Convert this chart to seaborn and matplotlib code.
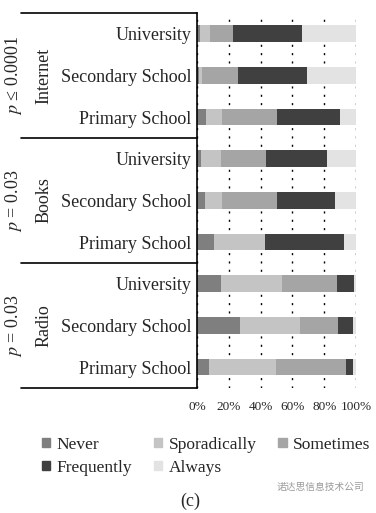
import seaborn as sns
import pandas as pd
import matplotlib.pyplot as plt
from matplotlib.patches import Patch
from matplotlib.lines import Line2D

# data (percent of respondents)
media = ['Internet', 'Books', 'Radio']
p_labels = [r'$p$ ≤ 0.0001', r'$p$ = 0.03', r'$p$ = 0.03']
levels = ['University', 'Secondary School', 'Primary School']
answers = ['Never', 'Sporadically', 'Sometimes', 'Frequently', 'Always']
colors = ['#7f7f7f', '#c4c4c4', '#a5a5a5', '#404040', '#e3e3e3']

never = [1.7, 1.0, 5.5, 2.3, 5.0, 10.5, 15.0, 27.0, 7.4]
sporadically = [6.3, 2.0, 10.0, 13.0, 10.7, 32.5, 38.6, 38.0, 42.2]
sometimes = [14.5, 23.0, 35.0, 28.0, 34.4, 0.0, 34.4, 23.4, 44.1]
frequently = [43.5, 43.0, 39.5, 38.7, 36.8, 49.6, 10.7, 9.6, 4.6]
always = [34.0, 31.0, 10.0, 18.0, 13.1, 7.4, 1.3, 2.0, 1.7]

rows = [m + '|' + l for m in media for l in levels]
df = pd.DataFrame({'row': rows, 'Never': never, 'Sporadically': sporadically,
                   'Sometimes': sometimes, 'Frequently': frequently, 'Always': always})

sns.set_style('white')
plt.rcParams['font.family'] = ['Liberation Serif', 'DejaVu Serif']
plt.rcParams['mathtext.fontset'] = 'stix'

fig = plt.figure(figsize=(3.76, 5.13), dpi=100)
ax = fig.add_axes([197 / 376, 1 - 388 / 513, 159 / 376, 375 / 513])

# stacked horizontal bars
left = pd.Series([0.0] * len(df))
for ans, col in zip(answers, colors):
    sns.barplot(x=ans, y='row', data=df, ax=ax, color=col, orient='h',
                left=left.values, width=0.4, linewidth=0, zorder=2)
    left = left + df[ans]

ax.set_xlim(0, 100)
ax.set_ylim(8.5, -0.5)
ax.set_xticks([0, 20, 40, 60, 80, 100])
ax.set_xticklabels(['0%', '20%', '40%', '60%', '80%', '100%'], fontsize=9.5)
ax.set_yticks(range(9))
ax.set_yticklabels(levels * 3, fontsize=13)
ax.tick_params(axis='both', length=0, pad=4)
ax.tick_params(axis='x', pad=9)
ax.set_xlabel('')
ax.set_ylabel('')
ax.xaxis.grid(True, linestyle=(0, (1.5, 4.5)), color='black', linewidth=1)
ax.set_axisbelow(True)
for s in ['top', 'right', 'bottom']:
    ax.spines[s].set_visible(False)
ax.spines['left'].set_color('black')
ax.spines['left'].set_linewidth(1.2)

# box around the row labels
x0, x1 = 21 / 376, 197 / 376
for yp in [13, 138, 263, 388]:
    fig.add_artist(Line2D([x0, x1], [1 - yp / 513, 1 - yp / 513], color='black', lw=1.2))

for i, (m, p) in enumerate(zip(media, p_labels)):
    yc = 1 - (75.5 + 125 * i) / 513
    fig.text(44 / 376, yc, m, rotation=90, ha='center', va='center', fontsize=13)
    fig.text(14 / 376, yc, p, rotation=90, ha='center', va='center', fontsize=13)

# legend
handles = [Patch(color=c, label=a) for a, c in zip(answers, colors)]
order = [0, 3, 1, 4, 2]
fig.legend([handles[i] for i in order], [answers[i] for i in order],
           loc='upper left', bbox_to_anchor=(33 / 376, 1 - 428 / 513), ncol=3,
           frameon=False, fontsize=12.5, handlelength=0.5, handleheight=0.5,
           handletextpad=0.35, columnspacing=1.25, labelspacing=0.4, borderpad=0)

fig.text(190 / 376, 1 - 501 / 513, '(c)', ha='center', va='center', fontsize=13)
fig.text(320 / 376, 1 - 487 / 513, '诺达思信息技术公司', ha='center', va='center',
         fontsize=7, color='#9a9a9a', family=['Noto Sans CJK SC', 'DejaVu Sans'])

fig.savefig('out.png', dpi=100)
